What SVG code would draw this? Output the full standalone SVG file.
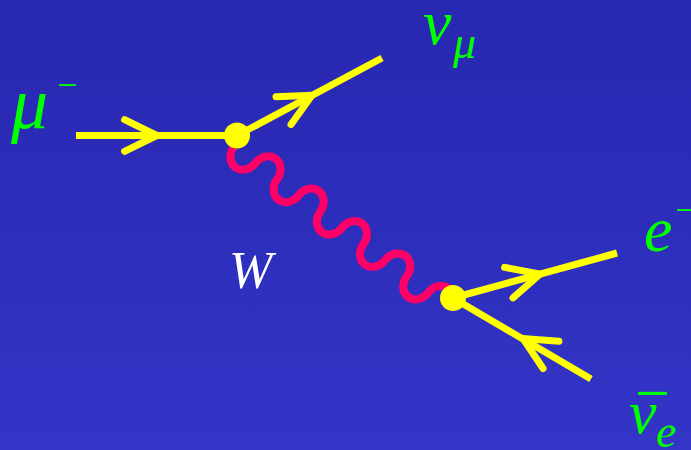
<svg xmlns="http://www.w3.org/2000/svg" width="691" height="450" viewBox="0 0 691 450">
  <defs>
    <linearGradient id="bg" x1="0" y1="0" x2="0" y2="1">
      <stop offset="0" stop-color="#2727B1"/>
      <stop offset="1" stop-color="#3434C7"/>
    </linearGradient>
  </defs>
  <style>
    .fermion { fill: none; stroke: #FFFF00; stroke-width: 7; stroke-linecap: butt; }
    .arrow { fill: none; stroke: #FFFF00; stroke-width: 7; stroke-linecap: round; stroke-linejoin: miter; }
    .boson { fill: none; stroke: #FF0066; stroke-width: 8; }
    .vertex { fill: #FFFF00; }
    .lbl { font-family: "Liberation Serif", "Times New Roman", serif; font-style: italic; fill: #00FF00; }
    .w { font-family: "Liberation Serif", "Times New Roman", serif; font-style: italic; fill: #FFFFFF; }
  </style>
  <rect width="691" height="450" fill="url(#bg)"/>

  <g id="connectors">
    <path id="w-boson" class="boson" transform="translate(237,135.5) rotate(36.87)"
      d="M 4.3 10.9 a 13.5 15.6 0 0 0 27 0 a 13.5 15.6 0 0 1 27 0 a 13.5 15.6 0 0 0 27 0 a 13.5 15.6 0 0 1 27 0 a 13.5 15.6 0 0 0 27 0 a 13.5 15.6 0 0 1 27 0 a 13.5 15.6 0 0 0 27 0 a 13.5 15.6 0 0 1 27 0 a 13.5 15.6 0 0 0 27 0 a 13.5 15.6 0 0 1 27 0"/>
    <line id="muon-line" class="fermion" x1="76" y1="135.5" x2="237" y2="135.5"/>
    <polyline class="arrow" points="124.6,119.7 157,135.5 124.6,151.3"/>
    <line id="numu-line" class="fermion" x1="237" y1="135.5" x2="382" y2="58"/>
    <polyline class="arrow" points="276,96.7 312,95.3 291,124.5"/>
    <line id="electron-line" class="fermion" x1="453" y1="298" x2="617" y2="253"/>
    <polyline class="arrow" points="504.6,267.4 540,274.1 513,297.9"/>
    <line id="nuebar-line" class="fermion" x1="453" y1="298" x2="591" y2="379"/>
    <polyline class="arrow" points="558.9,341.2 523,338.6 543.1,368.5"/>
  </g>

  <g id="vertex-1"><circle class="vertex" cx="237" cy="135.5" r="13"/></g>
  <g id="vertex-2"><circle class="vertex" cx="453" cy="298" r="13"/></g>

  <g id="label-muon">
    <text class="lbl" x="11" y="128" font-size="74">μ</text>
    <text class="lbl" x="55" y="97" font-size="36">−</text>
  </g>
  <g id="label-numu">
    <text class="lbl" x="423" y="44" font-size="64">ν</text>
    <text class="lbl" x="453" y="58" font-size="46">μ</text>
  </g>
  <g id="label-electron">
    <text class="lbl" x="644" y="251" font-size="64">e</text>
    <text class="lbl" x="673" y="222" font-size="36">−</text>
  </g>
  <g id="label-nuebar">
    <text class="lbl" x="631" y="414" font-size="62">−</text>
    <text class="lbl" x="629" y="433" font-size="62">ν</text>
    <text class="lbl" x="656" y="447" font-size="46">e</text>
  </g>
  <g id="label-w">
    <text class="w" x="229" y="288" font-size="52">W</text>
  </g>
</svg>
